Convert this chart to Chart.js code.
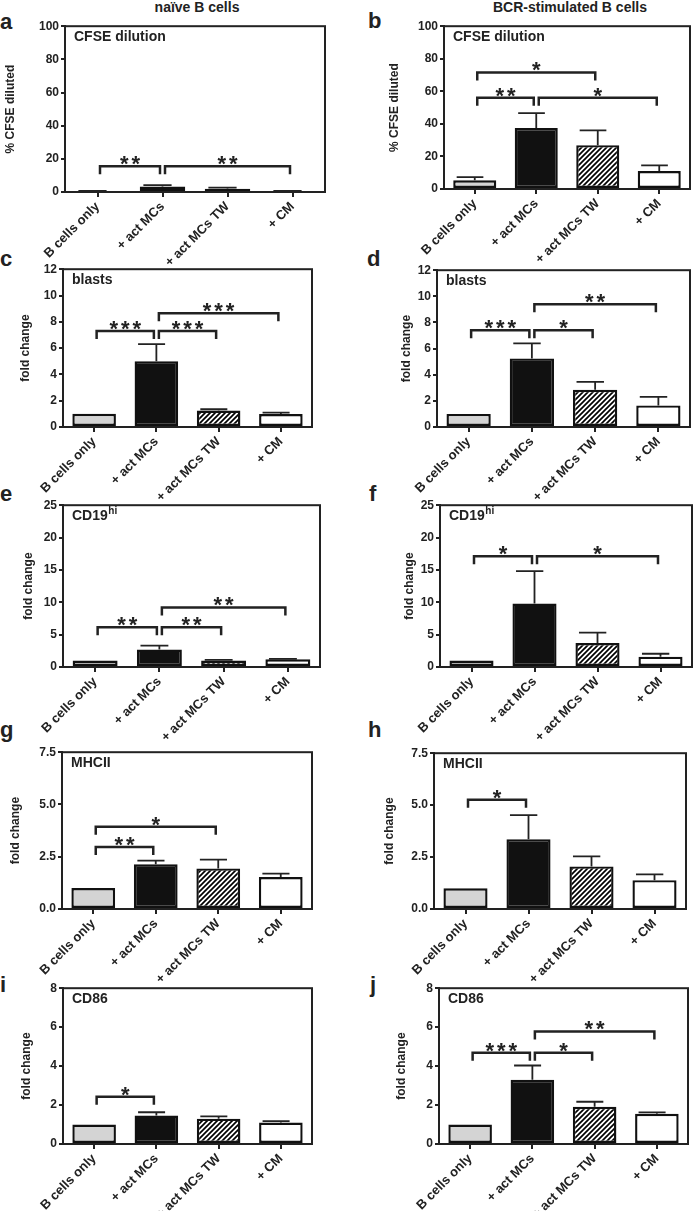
<!DOCTYPE html>
<html>
<head>
<meta charset="utf-8">
<title>MC co-culture B cell panels</title>
<script src="https://cdn.jsdelivr.net/npm/chart.js"></script>
<style>
  body { margin: 0; background: #fff; }
  #fig { position: relative; width: 697px; height: 1211px; overflow: hidden;
         font-family: 'Liberation Sans', Arial, Helvetica, sans-serif; color: #222; }
  #fig canvas { position: absolute; }
  .letter { position: absolute; font-weight: bold; font-size: 22px; line-height: 1; }
  .head { position: absolute; top: 0; font-weight: bold; font-size: 14px; line-height: 1;
          transform: translateX(-50%); white-space: nowrap; }
</style>
</head>
<body>
<div id="fig">
  <div class="head" style="left:197px">naïve B cells</div>
  <div class="head" style="left:570px">BCR-stimulated B cells</div>
  <div class="letter" style="left:0;top:11px">a</div>
  <div class="letter" style="left:368px;top:10px">b</div>
  <div class="letter" style="left:0;top:248px">c</div>
  <div class="letter" style="left:367px;top:248px">d</div>
  <div class="letter" style="left:0;top:483px">e</div>
  <div class="letter" style="left:369px;top:483px">f</div>
  <div class="letter" style="left:0;top:719px">g</div>
  <div class="letter" style="left:368px;top:719px">h</div>
  <div class="letter" style="left:0;top:974px">i</div>
  <div class="letter" style="left:370px;top:974px">j</div>
</div>
<script>
  // categories shared by every panel
  const categories = ['B cells only', '+ act MCs', '+ act MCs TW', '+ CM'];

  // values (mean, upper SEM)
  const cfseNaive = [0.5, 3.3, 2.0, 0.5];
  const cfseNaiveErr = [0.1, 0.8, 0.6, 0.1];
  const cfseBcr = [5.3, 37.4, 26.9, 11.0];
  const cfseBcrErr = [2.0, 9.2, 9.1, 3.5];

  const blastsNaive = [1.0, 5.0, 1.25, 0.98];
  const blastsNaiveErr = [0, 1.3, 0.1, 0.12];
  const blastsBcr = [1.0, 5.25, 2.85, 1.65];
  const blastsBcrErr = [0, 1.15, 0.6, 0.65];

  const cd19Naive = [1.0, 2.7, 1.0, 1.2];
  const cd19NaiveErr = [0, 0.6, 0.1, 0.05];
  const cd19Bcr = [1.0, 9.8, 3.7, 1.6];
  const cd19BcrErr = [0, 5.0, 1.6, 0.45];

  const mhcNaive = [1.0, 2.14, 1.94, 1.53];
  const mhcNaiveErr = [0, 0.17, 0.42, 0.16];
  const mhcBcr = [1.0, 3.36, 2.05, 1.39];
  const mhcBcrErr = [0, 1.16, 0.48, 0.28];

  const cd86Naive = [1.0, 1.46, 1.3, 1.1];
  const cd86NaiveErr = [0, 0.17, 0.12, 0.07];
  const cd86Bcr = [1.0, 3.3, 1.91, 1.55];
  const cd86BcrErr = [0, 0.73, 0.26, 0.07];

  // y tick values
  const cfseTicks = [0, 20, 40, 60, 80, 100];
  const blastsTicks = [0, 2, 4, 6, 8, 10, 12];
  const cd19Ticks = [0, 5, 10, 15, 20, 25];
  const mhcTicks = [0, 2.5, 5, 7.5];
  const cd86Ticks = [0, 2, 4, 6, 8];

  // significance brackets: [from, to, level (data units), stars]
  const cfseNaiveSig = [[0, 1, 15.6, '**'], [1, 3, 15.6, '**']];
  const cfseBcrSig = [[0, 2, 71.6, '*'], [0, 1, 56.1, '**'], [1, 3, 56.1, '*']];
  const blastsNaiveSig = [[0, 1, 7.3, '***'], [1, 2, 7.3, '***'], [1, 3, 8.65, '***']];
  const blastsBcrSig = [[0, 1, 7.4, '***'], [1, 2, 7.4, '*'], [1, 3, 9.4, '**']];
  const cd19NaiveSig = [[0, 1, 6.15, '**'], [1, 2, 6.15, '**'], [1, 3, 9.2, '**']];
  const cd19BcrSig = [[0, 1, 17.1, '*'], [1, 3, 17.1, '*']];
  const mhcNaiveSig = [[0, 1, 2.96, '**'], [0, 2, 3.94, '*']];
  const mhcBcrSig = [[0, 1, 5.26, '*']];
  const cd86NaiveSig = [[0, 1, 2.42, '*']];
  const cd86BcrSig = [[0, 1, 4.68, '***'], [1, 2, 4.68, '*'], [1, 3, 5.78, '**']];

  const ink = '#222';
  const fontFamily = "'Liberation Sans', Arial, Helvetica, sans-serif";
  Chart.defaults.font.family = fontFamily;
  Chart.defaults.color = ink;

  const padTop = 8, padRight = 3, xAxisH = 80;

  // diagonal hatch for the transwell bars
  const hatch = (() => {
    const c = document.createElement('canvas');
    c.width = 5; c.height = 5;
    const g = c.getContext('2d');
    g.fillStyle = '#fff';
    g.fillRect(0, 0, 5, 5);
    g.strokeStyle = '#000';
    g.lineWidth = 1.7;
    g.beginPath();
    g.moveTo(-1, 6); g.lineTo(6, -1);
    g.moveTo(-1, 1); g.lineTo(1, -1);
    g.moveTo(4, 6); g.lineTo(6, 4);
    g.stroke();
    return g.createPattern(c, 'repeat');
  })();
  const barColors = ['#d4d4d4', '#111111', hatch, '#ffffff'];

  // error bars, frame, brackets and inner label
  const panelPlugin = {
    id: 'panel',
    afterDatasetsDraw(chart, args, opts) {
      const { ctx, chartArea: a, scales: { x, y } } = chart;
      const bars = chart.getDatasetMeta(0).data;
      ctx.save();
      ctx.strokeStyle = ink;
      ctx.lineCap = 'butt';

      ctx.lineWidth = 1.8;
      bars.forEach((bar, i) => {
        const e = opts.err[i];
        if (!e) return;
        const top = y.getPixelForValue(opts.values[i] + e);
        ctx.beginPath();
        ctx.moveTo(bar.x, bar.y);
        ctx.lineTo(bar.x, top);
        ctx.moveTo(bar.x - bar.width * 0.42, top);
        ctx.lineTo(bar.x + bar.width * 0.2, top);
        ctx.stroke();
      });

      ctx.lineWidth = 2;
      ctx.strokeRect(a.left, a.top, a.right - a.left, a.bottom - a.top);

      ctx.lineWidth = 2.5;
      ctx.fillStyle = ink;
      ctx.font = 'bold 22px ' + fontFamily;
      ctx.textAlign = 'center';
      ctx.textBaseline = 'alphabetic';
      opts.brackets.forEach(([from, to, level, stars]) => {
        const x0 = x.getPixelForValue(from) + 2.5;
        const x1 = x.getPixelForValue(to) - 2.5;
        const yy = y.getPixelForValue(level);
        ctx.beginPath();
        ctx.moveTo(x0, yy + 8);
        ctx.lineTo(x0, yy);
        ctx.lineTo(x1, yy);
        ctx.lineTo(x1, yy + 8);
        ctx.stroke();
        const cx = (x0 + x1) / 2;
        for (let k = 0; k < stars.length; k++) {
          ctx.fillText('*', cx + (k - (stars.length - 1) / 2) * 11.5, yy + 5);
        }
      });

      ctx.textAlign = 'left';
      ctx.textBaseline = 'top';
      ctx.font = 'bold 14px ' + fontFamily;
      ctx.fillText(opts.label, a.left + 9, a.top + 4);
      if (opts.sup) {
        const w = ctx.measureText(opts.label).width;
        ctx.font = 'bold 10px ' + fontFamily;
        ctx.fillText(opts.sup, a.left + 9 + w + 0.5, a.top + 1);
      }
      ctx.restore();
    }
  };

  // box: [canvas left, y-axis width, plot top, plot bottom, plot right]
  const panels = [
    { values: cfseNaive, err: cfseNaiveErr, ticks: cfseTicks, yTitle: '% CFSE diluted', label: 'CFSE dilution', brackets: cfseNaiveSig, box: [3, 62, 25, 192, 325] },
    { values: cfseBcr, err: cfseBcrErr, ticks: cfseTicks, yTitle: '% CFSE diluted', label: 'CFSE dilution', brackets: cfseBcrSig, box: [387, 57, 25, 189, 690] },
    { values: blastsNaive, err: blastsNaiveErr, ticks: blastsTicks, yTitle: 'fold change', label: 'blasts', brackets: blastsNaiveSig, box: [18, 45, 268, 427, 312] },
    { values: blastsBcr, err: blastsBcrErr, ticks: blastsTicks, yTitle: 'fold change', label: 'blasts', brackets: blastsBcrSig, box: [399, 38, 269, 427, 690] },
    { values: cd19Naive, err: cd19NaiveErr, ticks: cd19Ticks, yTitle: 'fold change', label: 'CD19', sup: 'hi', brackets: cd19NaiveSig, box: [21, 42, 504, 667, 320] },
    { values: cd19Bcr, err: cd19BcrErr, ticks: cd19Ticks, yTitle: 'fold change', label: 'CD19', sup: 'hi', brackets: cd19BcrSig, box: [402, 38, 504, 667, 692] },
    { values: mhcNaive, err: mhcNaiveErr, ticks: mhcTicks, yTitle: 'fold change', label: 'MHCII', brackets: mhcNaiveSig, box: [8, 54, 751, 909, 312] },
    { values: mhcBcr, err: mhcBcrErr, ticks: mhcTicks, yTitle: 'fold change', label: 'MHCII', brackets: mhcBcrSig, box: [382, 52, 752, 909, 686] },
    { values: cd86Naive, err: cd86NaiveErr, ticks: cd86Ticks, yTitle: 'fold change', label: 'CD86', brackets: cd86NaiveSig, box: [19, 44, 987, 1144, 312] },
    { values: cd86Bcr, err: cd86BcrErr, ticks: cd86Ticks, yTitle: 'fold change', label: 'CD86', brackets: cd86BcrSig, box: [394, 45, 987, 1144, 688] }
  ];

  const fig = document.getElementById('fig');

  panels.forEach(p => {
    const [left, yW, top, bottom, right] = p.box;
    const w = right + padRight - left;
    const h = bottom - top + padTop + xAxisH;
    const canvas = document.createElement('canvas');
    canvas.width = w;
    canvas.height = h;
    canvas.style.left = left + 'px';
    canvas.style.top = (top - padTop) + 'px';
    canvas.style.width = w + 'px';
    canvas.style.height = h + 'px';
    fig.appendChild(canvas);

    const decimals = p.ticks.some(v => !Number.isInteger(v)) ? 1 : 0;

    new Chart(canvas, {
      type: 'bar',
      data: {
        labels: categories,
        datasets: [{
          data: p.values,
          backgroundColor: barColors,
          borderColor: '#111',
          borderWidth: 2.4,
          borderSkipped: false,
          barPercentage: 0.7,
          categoryPercentage: 1
        }]
      },
      options: {
        responsive: false,
        animation: false,
        devicePixelRatio: 1,
        layout: { padding: { top: padTop, right: padRight, left: 0, bottom: 0 } },
        plugins: {
          legend: { display: false },
          tooltip: { enabled: false },
          panel: { values: p.values, err: p.err, brackets: p.brackets, label: p.label, sup: p.sup }
        },
        scales: {
          x: {
            offset: true,
            grid: { drawOnChartArea: false, offset: false, tickLength: 5, lineWidth: 2, color: ink },
            border: { display: true, color: ink, width: 2 },
            ticks: { autoSkip: false, minRotation: 45, maxRotation: 45, padding: 2, color: ink,
                     font: { size: 13, weight: 'bold' } },
            afterFit: s => { s.height = xAxisH; }
          },
          y: {
            min: 0,
            max: p.ticks[p.ticks.length - 1],
            afterBuildTicks: s => { s.ticks = p.ticks.map(v => ({ value: v })); },
            grid: { drawOnChartArea: false, tickLength: 4, lineWidth: 2, color: ink },
            border: { display: true, color: ink, width: 2 },
            ticks: { padding: 2, color: ink, font: { size: 12, weight: 'bold' },
                     callback: v => Number(v).toFixed(decimals) },
            title: { display: true, text: p.yTitle, color: ink, padding: 0,
                     font: { size: 12, weight: 'bold' } },
            afterFit: s => { s.width = yW; }
          }
        }
      },
      plugins: [panelPlugin]
    });
  });
</script>
</body>
</html>
